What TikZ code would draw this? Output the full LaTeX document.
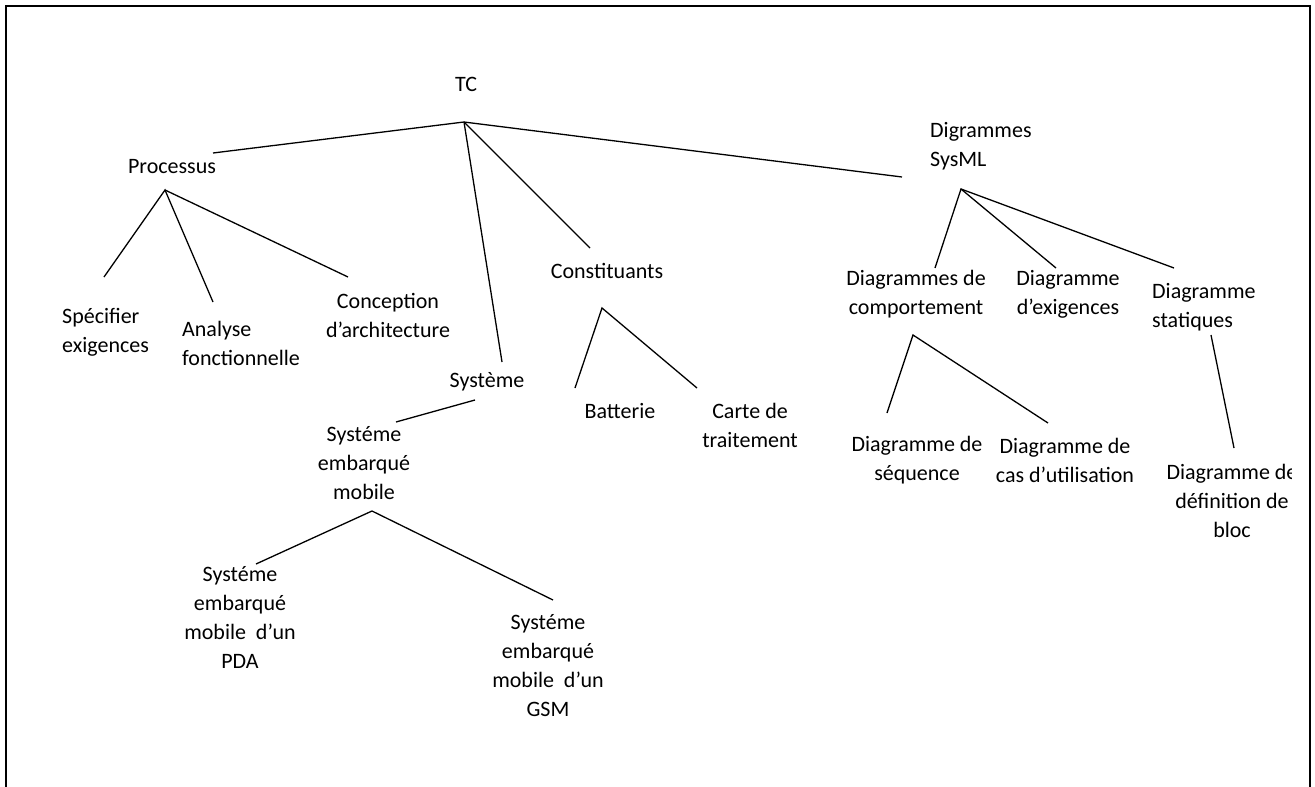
\documentclass[tikz,border=0pt]{standalone}
\usepackage{fontspec}
\setmainfont{Carlito}

\begin{document}
\begin{tikzpicture}[x=1pt,y=-1pt,
    lbl/.style={inner sep=0pt,align=center,font=\fontsize{22}{29}\selectfont},
    lblleft/.style={lbl,align=left,anchor=west},
    edge/.style={line width=1.3pt}]
  \useasboundingbox (0,0) rectangle (1315,787);

  % frame, open at the bottom
  \draw[line width=2.6pt] (6,800) -- (6,6) -- (1310,6) -- (1310,800);

  % labels
  \node[lbl] (tc) at (466,84) {TC};
  \node[lbl] (proc) at (172,167) {Processus};
  \node[lblleft] (spec) at (62,332) {Spécifier\\exigences};
  \node[lblleft] (anal) at (182,343) {Analyse\\fonctionnelle};
  \node[lbl] (conc) at (388,315) {Conception\\d’architecture};
  \node[lbl] (sys) at (487,382) {Système};
  \node[lbl] (const) at (607,271) {Constituants};
  \node[lbl] (batt) at (620,411) {Batterie};
  \node[lbl] (carte) at (750,425) {Carte de\\traitement};
  \node[lbl] (sem) at (364,463) {Systéme\\embarqué\\mobile};
  \node[lbl] (pda) at (240,617) {Systéme\\embarqué\\mobile\ \ d’un\\PDA};
  \node[lbl] (gsm) at (548,666) {Systéme\\embarqué\\mobile\ \ d’un\\GSM};
  \node[lblleft] (sysml) at (930,146) {Digrammes\\SysML};
  \node[lbl] (comp) at (916,294) {Diagrammes de\\comportement};
  \node[lbl] (exig) at (1068,294) {Diagramme\\d’exigences};
  \node[lblleft] (stat) at (1152,307) {Diagramme\\statiques};
  \node[lbl] (seq) at (917,460) {Diagramme de\\séquence};
  \node[lbl] (cas) at (1065,460) {Diagramme de\\cas d’utilisation};
  \begin{scope}
    \clip (1140,440) rectangle (1291,560);
    \node[lbl] (bdd) at (1232,501) {Diagramme de\\définition de\\bloc};
  \end{scope}

  % branch points under each parent
  \coordinate (tc-fan) at (464,122);
  \coordinate (proc-fan) at (165,190);
  \coordinate (const-fan) at (602,308);
  \coordinate (sys-fan) at (475,400);
  \coordinate (sem-fan) at (372,511);
  \coordinate (sysml-fan) at (961,189);
  \coordinate (comp-fan) at (913,335);
  \coordinate (stat-fan) at (1211,335);

  % line ends above each child
  \coordinate (proc-in) at (213,153);
  \coordinate (sys-in) at (502,362);
  \coordinate (const-in) at (590,248);
  \coordinate (sysml-in) at (902,177);
  \coordinate (spec-in) at (104,277);
  \coordinate (anal-in) at (213,302);
  \coordinate (conc-in) at (348,277);
  \coordinate (batt-in) at (575,388);
  \coordinate (carte-in) at (697,388);
  \coordinate (sem-in) at (396,422);
  \coordinate (pda-in) at (256,564);
  \coordinate (gsm-in) at (553,600);
  \coordinate (comp-in) at (935,268);
  \coordinate (exig-in) at (1056,268);
  \coordinate (stat-in) at (1174,268);
  \coordinate (seq-in) at (887,413);
  \coordinate (cas-in) at (1048,423);
  \coordinate (bdd-in) at (1234,448);

  % connectors
  \draw[edge] (proc-in) -- (tc-fan) -- (sysml-in);
  \draw[edge] (tc-fan) -- (sys-in);
  \draw[edge] (tc-fan) -- (const-in);
  \draw[edge] (spec-in) -- (proc-fan) -- (anal-in);
  \draw[edge] (proc-fan) -- (conc-in);
  \draw[edge] (batt-in) -- (const-fan) -- (carte-in);
  \draw[edge] (sys-fan) -- (sem-in);
  \draw[edge] (pda-in) -- (sem-fan) -- (gsm-in);
  \draw[edge] (comp-in) -- (sysml-fan) -- (stat-in);
  \draw[edge] (sysml-fan) -- (exig-in);
  \draw[edge] (seq-in) -- (comp-fan) -- (cas-in);
  \draw[edge] (stat-fan) -- (bdd-in);
\end{tikzpicture}
\end{document}
